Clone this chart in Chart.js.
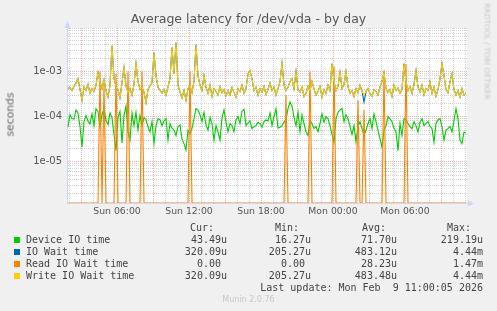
<!DOCTYPE html>
<html>
<head>
<meta charset="utf-8">
<script src="https://cdn.jsdelivr.net/npm/chart.js@4/dist/chart.umd.min.js"></script>
<style>
  body { margin: 0; background: #f0f0f0; }
  #wrap { position: relative; width: 497px; height: 311px; font-family: 'DejaVu Sans', sans-serif; color: #555; overflow: hidden; }
  #chart { position: absolute; left: 0; top: 0; }
  .t { position: absolute; white-space: pre; }
  .mono { font-family: 'DejaVu Sans Mono', monospace; font-size: 10px; line-height: 12px; color: #444; }
  .sw { position: absolute; width: 6px; height: 6px; }
</style>
</head>
<body>
<div id="wrap">
  <canvas id="chart" width="497" height="311"></canvas>
  <div class="t" style="left:0;width:497px;top:11px;text-align:center;font-size:12.5px;">Average latency for /dev/vda - by day</div>
  <div class="t" style="left:-20px;width:60px;top:108px;text-align:center;font-size:10.8px;color:#666;transform:rotate(-90deg);">seconds</div>
  <div class="t" style="left:432px;width:110px;top:47px;text-align:center;font-size:7.5px;color:#c8c8c8;transform:rotate(90deg);">RRDTOOL / TOBI OETIKER</div>
  <div id="legend"></div>
  <div class="t mono" style="right:14px;top:282px;">Last update: Mon Feb  9 11:00:05 2026</div>
  <div class="t" style="left:0;width:497px;top:295px;text-align:center;font-size:8px;color:#c8c8c8;">Munin 2.0.76</div>
</div>
<script>
// 10 minute samples from Sun 01:50, values in microseconds
const deviceIo = [
  60, 110, 90, 88, 140, 120, 60, 21, 77, 105, 80, 68, 115, 63, 150, 130, 58, 110, 150, 80,
  66, 120, 95, 40, 17.5, 95, 130, 26, 105, 170, 45, 30, 120, 63, 125, 50, 105, 63, 95, 85,
  60, 46, 77, 25, 63, 90, 85, 63, 80, 90, 30, 70, 55, 50, 38, 60, 65, 32, 25, 18,
  50, 42, 55, 90, 151, 140, 110, 77, 125, 65, 50, 95, 70, 30, 63, 45, 30, 95, 140, 75,
  46, 70, 63, 46, 85, 100, 70, 130, 145, 63, 72, 80, 54, 60, 63, 75, 70, 58, 77, 84,
  80, 120, 63, 100, 150, 55, 58, 63, 75, 84, 150, 210, 170, 95, 63, 125, 46, 110, 70, 46,
  38, 80, 70, 54, 60, 46, 70, 115, 75, 100, 90, 63, 40, 27, 90, 125, 140, 151, 77, 110,
  90, 60, 40, 63, 27, 60, 77, 54, 38, 50, 70, 90, 54, 115, 77, 50, 32, 21, 50, 63,
  100, 90, 77, 55, 46, 17.5, 70, 38, 90, 84, 70, 60, 54, 77, 63, 46, 75, 90, 63, 70,
  77, 60, 54, 27, 70, 84, 90, 60, 30, 50, 54, 60, 46, 80, 151, 90, 30, 25, 45, 43.49
]
const ioWait = [
  420, 440, 380, 470, 560, 700, 400, 230, 450, 380, 520, 330, 420, 360, 500, 950, 600, 420, 650, 380,
  270, 500, 3780, 700, 460, 400, 260, 560, 1230, 480, 340, 420, 300, 520, 1510, 600, 400, 450, 350, 205,
  400, 480, 560, 2640, 800, 450, 380, 330, 400, 300, 460, 700, 3410, 900, 4440, 500, 350, 260, 380, 230,
  420, 480, 340, 600, 4000, 800, 500, 380, 815, 450, 330, 500, 280, 420, 360, 300, 460, 340, 400, 290,
  380, 300, 440, 340, 270, 420, 360, 500, 330, 420, 900, 1050, 700, 380, 450, 300, 420, 350, 470, 310,
  400, 560, 380, 450, 300, 420, 600, 1510, 500, 380, 450, 600, 700, 420, 1000, 400, 350, 450, 280, 330,
  470, 380, 600, 420, 300, 360, 470, 270, 400, 330, 500, 380, 1510, 600, 380, 470, 950, 420, 520, 1000,
  450, 330, 380, 280, 420, 340, 500, 370, 210, 360, 420, 330, 280, 400, 360, 300, 450, 600, 950, 420,
  340, 400, 280, 500, 380, 430, 330, 400, 1510, 600, 380, 460, 330, 520, 1050, 450, 350, 500, 300, 420,
  380, 600, 330, 450, 280, 400, 700, 1510, 800, 400, 340, 600, 900, 400, 300, 380, 270, 420, 300, 320.09
]
const readWait = [
  0, 0, 0, 0, 0, 0, 0, 0, 0, 0, 0, 0, 0, 0, 0, 0, 1000, 0, 500, 0,
  0, 0, 0, 0, 900, 0, 0, 0, 0, 0, 1000, 0, 0, 0, 0, 0, 0, 1000, 0, 0,
  0, 0, 0, 0, 0, 0, 0, 0, 0, 0, 0, 0, 0, 0, 0, 0, 0, 0, 0, 0,
  0, 1000, 0, 0, 0, 0, 0, 0, 0, 0, 0, 0, 0, 0, 0, 0, 0, 0, 0, 0,
  0, 0, 0, 0, 0, 0, 0, 0, 0, 0, 0, 0, 0, 0, 0, 0, 0, 0, 0, 0,
  0, 0, 0, 0, 0, 0, 0, 0, 0, 300, 0, 0, 0, 0, 0, 0, 0, 0, 0, 0,
  0, 1000, 0, 0, 0, 0, 0, 0, 0, 0, 0, 0, 0, 1300, 0, 0, 0, 0, 0, 0,
  0, 0, 0, 0, 0, 230, 0, 0, 140, 0, 0, 0, 0, 0, 0, 0, 0, 0, 1000, 0,
  0, 0, 0, 0, 0, 0, 0, 0, 0, 1470, 0, 0, 0, 0, 0, 0, 0, 0, 0, 0,
  0, 0, 0, 0, 0, 0, 0, 0, 0, 0, 0, 0, 0, 0, 0, 0, 0, 0, 0, 0
]
const writeWait = [
  420, 440, 380, 470, 560, 700, 400, 230, 450, 380, 520, 330, 420, 360, 500, 950, 600, 420, 650, 380,
  270, 500, 3780, 700, 460, 400, 260, 560, 1230, 480, 340, 420, 300, 520, 1510, 600, 400, 450, 350, 205,
  400, 480, 560, 2640, 800, 450, 380, 330, 400, 300, 460, 700, 3410, 900, 4440, 500, 350, 260, 380, 230,
  420, 480, 340, 600, 4000, 800, 500, 380, 815, 450, 330, 500, 280, 420, 360, 300, 460, 340, 400, 290,
  380, 300, 440, 340, 270, 420, 360, 500, 330, 420, 900, 1050, 700, 380, 450, 300, 420, 350, 470, 310,
  400, 560, 380, 450, 300, 420, 600, 1510, 500, 380, 450, 600, 700, 420, 1000, 400, 350, 450, 280, 330,
  470, 380, 600, 420, 300, 360, 470, 270, 400, 330, 500, 380, 1510, 600, 380, 470, 950, 420, 520, 1000,
  450, 330, 380, 280, 420, 340, 500, 370, 300, 360, 420, 330, 280, 400, 360, 300, 450, 600, 950, 420,
  340, 400, 280, 500, 380, 430, 330, 400, 1510, 600, 380, 460, 330, 520, 1050, 450, 350, 500, 300, 420,
  380, 600, 330, 450, 280, 400, 700, 1510, 800, 400, 340, 600, 900, 400, 300, 380, 270, 420, 300, 320.09
]

// x axis in minutes since Sun 00:00
const xTickMinutes = [360, 720, 1080, 1440, 1800]
const xTickLabels = ['Sun 06:00', 'Sun 12:00', 'Sun 18:00', 'Mon 00:00', 'Mon 06:00']
const yTickValues = [1e-5, 1e-4, 1e-3]
const yTickLabels = ['1e-05', '1e-04', '1e-03']

const seriesNames = ['Device IO time', 'IO Wait time', 'Read IO Wait time', 'Write IO Wait time']
const seriesColors = ['#00cc00', '#0066b3', '#ff8000', '#ffcc00']
const curVals = ['43.49u', '320.09u', '0.00 ', '320.09u']
const minVals = ['16.27u', '205.27u', '0.00 ', '205.27u']
const avgVals = ['71.70u', '483.12u', '28.23u', '483.48u']
const maxVals = ['219.19u', '4.44m', '1.47m', '4.44m']

const START = 110 // Sun 01:50
const STEP = 10
const X_MIN = 110
const X_MAX = 2110
const Y_MIN = 1.2e-6
const Y_MAX = 9.3e-3

const MINOR = 'rgba(140,140,140,0.38)'
const MAJOR = 'rgba(220,80,80,0.45)'
const AXIS = '#cfd6f8'

// zero can't sit on a log axis, rrdtool puts it on the bottom edge
function points(arr) {
  return arr.map((v, i) => ({ x: START + STEP * i + STEP / 2, y: v > 0 ? v / 1e6 : Y_MIN }))
}

function isDecade(v) {
  const l = Math.log10(v)
  return Math.abs(l - Math.round(l)) < 1e-6
}

// legend table
const legend = document.getElementById('legend')
let html = ''
const headers = [['Cur:', 190], ['Min:', 275], ['Avg:', 362], ['Max:', 447]]
headers.forEach(h => {
  html += `<div class="t mono" style="left:${h[1]}px;top:222px;">${h[0]}</div>`
})
const cols = [[curVals, 227], [minVals, 311], [avgVals, 397], [maxVals, 483]]
seriesNames.forEach((name, k) => {
  const top = 234 + 12 * k
  html += `<div class="sw" style="left:14px;top:${top + 3}px;background:${seriesColors[k]}"></div>`
  html += `<div class="t mono" style="left:26px;top:${top}px;">${name}</div>`
  cols.forEach(c => {
    html += `<div class="t mono" style="right:${497 - c[1]}px;top:${top}px;">${c[0][k]}</div>`
  })
})
legend.innerHTML = html

const bgPlugin = {
  id: 'canvasBg',
  beforeDraw(chart) {
    const { ctx, chartArea: a } = chart
    ctx.save()
    ctx.fillStyle = '#ffffff'
    ctx.fillRect(a.left, a.top, a.right - a.left, a.bottom - a.top)
    ctx.restore()
  },
  afterDraw(chart) {
    const { ctx, chartArea: a } = chart
    ctx.save()
    ctx.fillStyle = AXIS
    ctx.strokeStyle = AXIS
    ctx.lineWidth = 1
    // y arrow
    ctx.beginPath()
    ctx.moveTo(a.left + 0.5, a.top - 7)
    ctx.lineTo(a.left - 2.5, a.top)
    ctx.lineTo(a.left + 3.5, a.top)
    ctx.closePath()
    ctx.fill()
    // x arrow
    ctx.beginPath()
    ctx.moveTo(a.right, a.bottom + 0.5)
    ctx.lineTo(a.right + 6, a.bottom + 0.5)
    ctx.stroke()
    ctx.beginPath()
    ctx.moveTo(a.right + 7, a.bottom + 0.5)
    ctx.lineTo(a.right + 1, a.bottom - 2.5)
    ctx.lineTo(a.right + 1, a.bottom + 3.5)
    ctx.closePath()
    ctx.fill()
    ctx.restore()
  }
}

const line = (label, data, color, order) => ({
  label,
  data: points(data),
  borderColor: color,
  backgroundColor: color,
  borderWidth: 1.1,
  pointRadius: 0,
  tension: 0,
  fill: false,
  order
})

new Chart(document.getElementById('chart'), {
  type: 'line',
  data: {
    datasets: [
      line(seriesNames[0], deviceIo, seriesColors[0], 3),
      line(seriesNames[1], ioWait, seriesColors[1], 2),
      line(seriesNames[2], readWait, seriesColors[2], 1),
      line(seriesNames[3], writeWait, seriesColors[3], 0)
    ]
  },
  options: {
    responsive: false,
    animation: false,
    devicePixelRatio: 1,
    layout: { padding: { left: 0, right: 30, top: 28, bottom: 88 } },
    plugins: { legend: { display: false }, tooltip: { enabled: false } },
    scales: {
      x: {
        type: 'linear',
        min: X_MIN,
        max: X_MAX,
        afterBuildTicks: s => {
          const t = []
          for (let m = 120; m <= 2100; m += 60) t.push({ value: m })
          s.ticks = t
        },
        afterFit: s => { s.height = 20 },
        ticks: {
          autoSkip: false,
          maxRotation: 0,
          padding: 3,
          color: '#555',
          font: { family: 'DejaVu Sans', size: 9.3 },
          callback: v => {
            const k = xTickMinutes.indexOf(v)
            return k >= 0 ? xTickLabels[k] : ''
          }
        },
        grid: {
          drawTicks: false,
          lineWidth: 1,
          color: c => (c.tick && c.tick.value % 180 === 0 ? MAJOR : MINOR)
        },
        border: { display: true, color: AXIS, width: 1, dash: [1, 1] }
      },
      y: {
        type: 'logarithmic',
        min: Y_MIN,
        max: Y_MAX,
        afterBuildTicks: s => {
          const t = []
          for (let e = -6; e <= -3; e++) {
            for (let m = 1; m <= 9; m++) {
              const v = m * Math.pow(10, e)
              if (v >= Y_MIN && v <= Y_MAX) t.push({ value: v })
            }
          }
          s.ticks = t
        },
        afterFit: s => { s.width = 67 },
        ticks: {
          autoSkip: false,
          padding: 5,
          color: '#555',
          font: { family: 'DejaVu Sans', size: 10 },
          callback: v => {
            const k = yTickValues.findIndex(tv => Math.abs(v / tv - 1) < 1e-6)
            return k >= 0 ? yTickLabels[k] : ''
          }
        },
        grid: {
          drawTicks: false,
          lineWidth: 1,
          color: c => (c.tick && isDecade(c.tick.value) ? MAJOR : MINOR)
        },
        border: { display: true, color: AXIS, width: 1, dash: [1, 1] }
      }
    }
  },
  plugins: [bgPlugin]
})
</script>
</body>
</html>
